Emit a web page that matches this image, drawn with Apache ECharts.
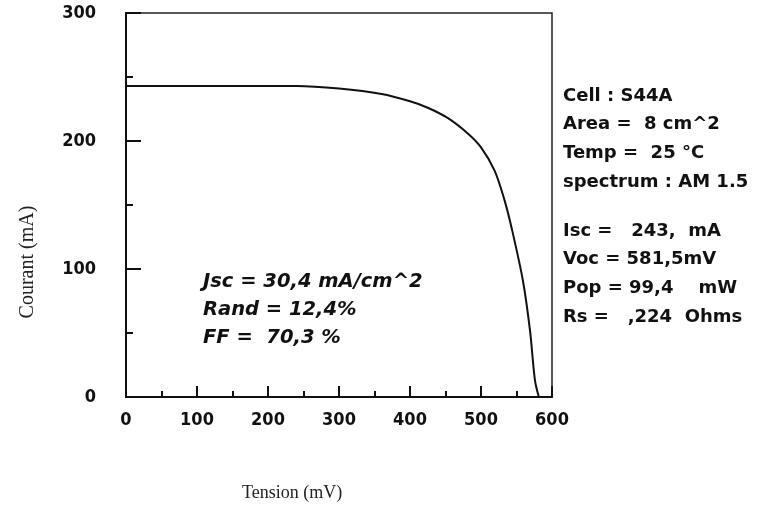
<!DOCTYPE html>
<html>
<head>
<meta charset="utf-8">
<script src="https://cdn.jsdelivr.net/npm/echarts@6/dist/echarts.min.js"></script>
<style>
  html, body { margin: 0; padding: 0; background: #fff; }
  #courbe { width: 767px; height: 508px; }
</style>
</head>
<body>
<div id="courbe"></div>
<script>
// courbe I-V
const tension = [0, 100, 240, 300, 360, 400, 425, 453, 481, 500, 519, 533, 544, 559, 569, 576, 581.5]
const courant = [243, 243, 243, 241, 236.7, 231, 226, 218, 206, 195, 177, 154, 130, 91, 52, 13, 0]
const xTicks = ['0', '100', '200', '300', '400', '500', '600']
const yTicks = ['0', '100', '200', '300']
const infoCell = ['Cell : S44A', 'Area =  8 cm^2', 'Temp =  25 °C', 'spectrum : AM 1.5']
const infoMesure = ['Isc =   243,  mA', 'Voc = 581,5mV', 'Pop = 99,4    mW', 'Rs =   ,224  Ohms']
const infoRend = ['Jsc = 30,4 mA/cm^2', 'Rand = 12,4%', 'FF =  70,3 %']

const tickFont = {
  fontFamily: 'DejaVu Sans Condensed, DejaVu Sans, sans-serif',
  fontWeight: 'bold',
  fontSize: 18,
  color: '#111'
}

const chart = echarts.init(document.getElementById('courbe'))

const textes = []
infoCell.forEach((t, i) => {
  textes.push({ type: 'text', left: 563, top: 87 + i * 28.7, style: { text: t, font: 'bold 18px "DejaVu Sans"', fill: '#111' } })
})
infoMesure.forEach((t, i) => {
  textes.push({ type: 'text', left: 563, top: 222 + i * 28.7, style: { text: t, font: 'bold 18px "DejaVu Sans"', fill: '#111' } })
})
infoRend.forEach((t, i) => {
  textes.push({ type: 'text', left: 203, top: 272 + i * 28, style: { text: t, font: 'italic bold 19.5px "DejaVu Sans"', fill: '#111' } })
})
// titres des axes
textes.push({ type: 'text', left: 242, top: 484, style: { text: 'Tension (mV)', font: '18px "Liberation Serif"', fill: '#222' } })
textes.push({
  type: 'text', x: 28, y: 262, rotation: Math.PI / 2,
  style: { text: 'Courant (mA)', font: '20px "Liberation Serif"', fill: '#222', align: 'center', verticalAlign: 'middle' }
})

const option = {
  animation: false,
  backgroundColor: '#fff',
  grid: { left: 126, right: 215, top: 13, bottom: 111, show: true, borderColor: '#222', borderWidth: 1.5 },
  xAxis: {
    type: 'value',
    min: 0,
    max: 600,
    interval: 100,
    axisLine: { lineStyle: { color: '#111', width: 2 } },
    axisTick: { show: true, inside: true, length: 11, lineStyle: { color: '#111', width: 2 } },
    minorTick: { show: true, splitNumber: 2, length: 6, lineStyle: { color: '#111', width: 2 } },
    splitLine: { show: false },
    axisLabel: Object.assign({ margin: 14, formatter: v => xTicks[v / 100] }, tickFont)
  },
  yAxis: {
    type: 'value',
    min: 0,
    max: 300,
    interval: 100,
    axisLine: { show: true, lineStyle: { color: '#111', width: 2 } },
    axisTick: { show: true, inside: true, length: 15, lineStyle: { color: '#111', width: 2 } },
    minorTick: { show: true, splitNumber: 2, length: 7, lineStyle: { color: '#111', width: 2 } },
    splitLine: { show: false },
    axisLabel: Object.assign({ margin: 30, formatter: v => yTicks[v / 100] }, tickFont)
  },
  graphic: textes,
  series: [
    {
      name: 'I-V',
      type: 'line',
      smooth: 0.3,
      showSymbol: false,
      lineStyle: { color: '#111', width: 2 },
      data: tension.map((v, i) => [v, courant[i]])
    }
  ]
}

chart.setOption(option)
window.addEventListener('resize', () => chart.resize(), false)
</script>
</body>
</html>
